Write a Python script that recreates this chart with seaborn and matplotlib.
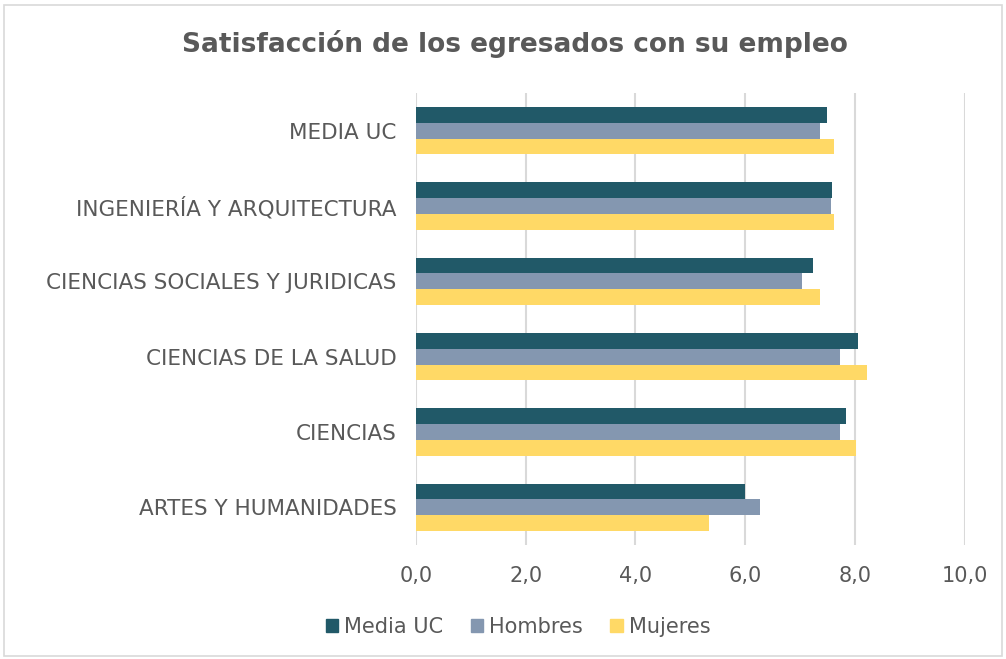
import matplotlib.pyplot as plt
import matplotlib.patches as mpatches
import seaborn as sns
import pandas as pd

categorias = [
    "MEDIA UC",
    "INGENIERÍA Y ARQUITECTURA",
    "CIENCIAS SOCIALES Y JURIDICAS",
    "CIENCIAS DE LA SALUD",
    "CIENCIAS",
    "ARTES Y HUMANIDADES",
]
series = ["Media UC", "Hombres", "Mujeres"]
media_uc = [7.49, 7.59, 7.23, 8.06, 7.84, 6.00]
hombres = [7.36, 7.57, 7.03, 7.72, 7.73, 6.26]
mujeres = [7.62, 7.61, 7.36, 8.21, 8.01, 5.34]
colores = ["#215968", "#8497B0", "#FFD966"]
ticks_x = [0, 2, 4, 6, 8, 10]

df = pd.DataFrame({
    "categoria": categorias * 3,
    "serie": [s for s in series for _ in categorias],
    "valor": media_uc + hombres + mujeres,
})

sns.set_theme(style="white")
plt.rcParams["font.family"] = ["DejaVu Sans"]
gris = "#595959"

fig = plt.figure(figsize=(10.06, 6.59), dpi=100)
ax = fig.add_axes([0.4135, 0.173, 0.5455, 0.686])

sns.barplot(data=df, y="categoria", x="valor", hue="serie", orient="h",
            palette=colores, width=0.63, ax=ax, legend=False, saturation=1,
            linewidth=0)

ax.set_xlim(0, 10)
ax.set_xticks(ticks_x)
ax.set_xticklabels([f"{t:.1f}".replace(".", ",") for t in ticks_x])
ax.set_xlabel("")
ax.set_ylabel("")
ax.grid(axis="x", color="#D9D9D9", linewidth=1.5)
ax.set_axisbelow(True)
for s in ax.spines.values():
    s.set_visible(False)
ax.tick_params(axis="x", length=0, labelsize=15, labelcolor=gris, pad=15)
ax.tick_params(axis="y", length=0, labelsize=15.5, labelcolor=gris, pad=14)

fig.text(0.512, 0.933, "Satisfacción de los egresados con su empleo",
         ha="center", va="center", fontsize=19, fontweight="bold", color=gris)

handles = [mpatches.Patch(color=c, label=s) for c, s in zip(colores, series)]
leg = fig.legend(handles=handles, loc="center", bbox_to_anchor=(0.515, 0.049),
                 ncol=3, frameon=False, fontsize=15, handlelength=0.6,
                 handleheight=0.6, handletextpad=0.3, columnspacing=1.3)
for t in leg.get_texts():
    t.set_color(gris)

fig.patches.append(mpatches.Rectangle((0.004, 0.004), 0.992, 0.988,
                                      transform=fig.transFigure, fill=False,
                                      edgecolor="#D9D9D9", linewidth=1.2))

fig.savefig("out.png", dpi=100)
